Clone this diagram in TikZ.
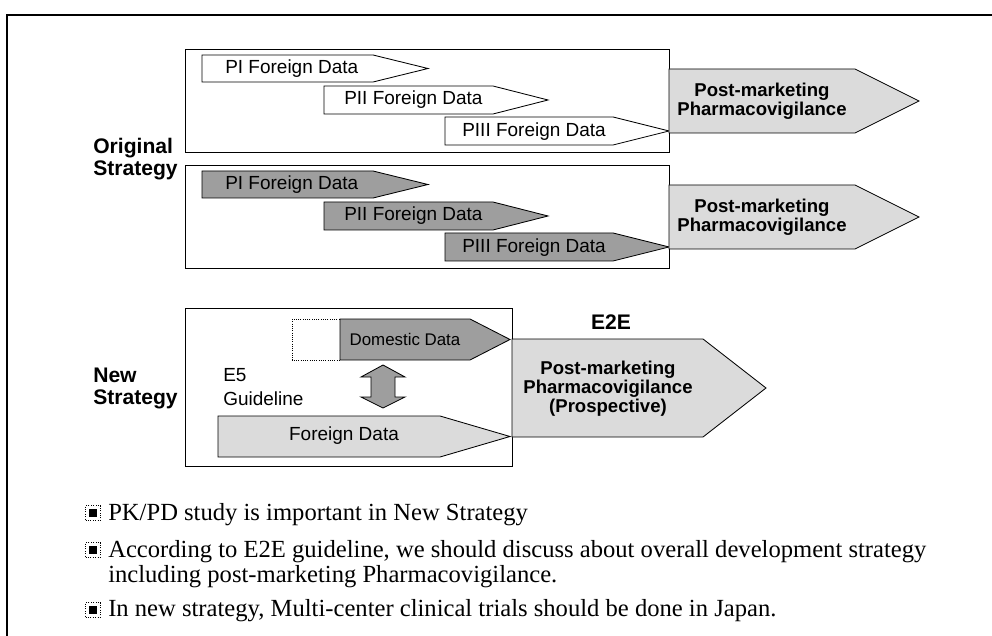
\documentclass[tikz,border=0pt]{standalone}
\usepackage{fontspec}
\setmainfont{Liberation Serif}
\setsansfont{Liberation Sans}
\usetikzlibrary{positioning}

\tikzset{
  frame/.style={draw, line width=0.6pt},
  open/.style={draw, fill=white, line width=0.6pt},
  light/.style={draw, fill=black!14, line width=0.6pt},
  dark/.style={draw, fill=black!38, line width=0.6pt},
  phase/.style={font=\sffamily\fontsize{13.5}{17}\selectfont, anchor=west, align=left, inner sep=0pt},
  pmtext/.style={font=\sffamily\bfseries\fontsize{13.2}{13.6}\selectfont, align=center, inner sep=0pt},
  strategy/.style={font=\sffamily\bfseries\fontsize{15}{15.6}\selectfont, align=left, anchor=west, inner sep=0pt},
  note/.style={font=\fontsize{17.5}{18}\selectfont, anchor=base west, inner sep=0pt},
  bulletbox/.style={draw, densely dotted, line width=0.7pt, minimum size=0.37cm, inner sep=0pt,
    path picture={\fill ([shift={(-0.09cm,-0.09cm)}]path picture bounding box.center) rectangle ++(0.18cm,0.18cm);}},
}

% block arrow: style, left, top, tip x, bottom, shoulder x
\newcommand{\phasearrow}[6]{%
  \draw[#1] (#2,#3) -- (#6,#3) -- (#4,{(#3+#5)/2}) -- (#6,#5) -- (#2,#5) -- cycle;}

\begin{document}
\begin{tikzpicture}[x=0.025cm, y=-0.025cm]
  \useasboundingbox (0,0) rectangle (992,636);
  % outer frame, cut off at right and bottom
  \draw[line width=1.3pt] (7,636) -- (7,15) -- (992,15);

  % original strategy, two rows
  \foreach \r/\shade in {0/white, 116/black!38} {
    \begin{scope}[shift={(0,\r)}]
      \draw[frame] (185,49) rectangle (669,152);
      \phasearrow{open, fill=\shade}{202}{55}{428}{82}{373}
      \phasearrow{open, fill=\shade}{324}{86}{548}{114}{493}
      \phasearrow{open, fill=\shade}{445}{117}{669}{145}{613}
      \node[phase] (pi-\r) at (225,69) {PI Foreign Data};
      \node[phase] (pii-\r) at (344,100) {PII Foreign Data};
      \node[phase] (piii-\r) at (462,132) {PIII Foreign Data};
      \phasearrow{light}{669}{69}{919}{133}{855}
      \node[pmtext] (pm-\r) at (762,101.5) {Post-marketing\\Pharmacovigilance};
    \end{scope}
  }
  \node[strategy] (orig) at (93,159) {Original\\Strategy};

  % new strategy
  \draw[frame] (185,308) rectangle (512,466);
  \draw[frame, densely dotted] (292,319) rectangle (340,360);
  \phasearrow{dark}{340}{319}{510}{360}{470}
  \node[phase, anchor=center, font=\sffamily\fontsize{12}{14}\selectfont] (dom) at (405,339) {Domestic Data};
  \phasearrow{light}{218}{416}{510}{457}{440}
  \node[phase, anchor=center] (foreign) at (344,436) {Foreign Data};
  \node[phase] (e5) at (223,387) {E5\\Guideline};
  \draw[dark] (383,365) -- (405,377) -- (395,377) -- (395,397) -- (405,397) -- (383,408)
    -- (361,397) -- (371,397) -- (371,377) -- (361,377) -- cycle;
  \node[strategy] (new) at (93,388.5) {New\\Strategy};

  % E2E post-marketing
  \phasearrow{light}{512}{339}{766}{437}{703}
  \node[pmtext] (pm-e2e) at (608,389) {Post-marketing\\Pharmacovigilance\\(Prospective)};
  \node[strategy, anchor=center] (e2e) at (611,322) {E2E};

  % notes
  \node[bulletbox] (b1) at (93,513) {};
  \node[bulletbox] (b2) at (93,550) {};
  \node[bulletbox] (b3) at (93,610) {};
  \node[note] (n1) at (108,520) {PK/PD study is important in New Strategy};
  \node[note] (n2) at (108,557) {According to E2E guideline, we should discuss about overall development strategy};
  \node[note] (n2b) at (108,582) {including post-marketing Pharmacovigilance.};
  \node[note] (n3) at (108,616) {In new strategy, Multi-center clinical trials should be done in Japan.};
\end{tikzpicture}
\end{document}
